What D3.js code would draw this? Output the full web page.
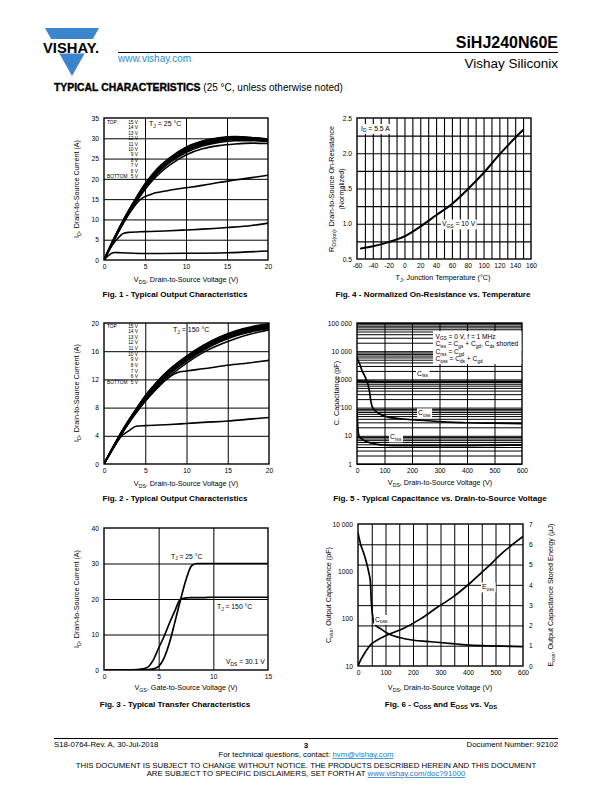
<!DOCTYPE html>
<html><head><meta charset="utf-8">
<script src="https://cdn.jsdelivr.net/npm/d3@7"></script>
<style>
body{margin:0;background:#fff}
svg{display:block;font-family:"Liberation Sans",Arial,Helvetica,sans-serif}
</style></head><body>
<svg id="page" width="612" height="792"></svg>
<script>
// ---------------- DATA ----------------
const gateLabels = ['15 V','14 V','13 V','12 V','11 V','10 V','9 V','8 V','7 V','6 V','5 V'];

// Fig 1 (TJ = 25 °C)
const fig1Vds = [0,1,2,3,4,5,6,7,8,10,12,14,16,18,20];
const fig1IdBundle = [
 [0,4.4,8.5,12.2,15.6,18.8,21.4,23.5,25.2,27.8,29.3,30.1,30.4,30.2,29.8],
 [0,4.4,8.4,12.1,15.5,18.6,21.2,23.3,25.0,27.6,29.2,30.0,30.3,30.1,29.7],
 [0,4.3,8.3,12.0,15.4,18.4,21.0,23.1,24.8,27.4,29.0,29.8,30.1,30.0,29.6],
 [0,4.3,8.3,11.9,15.2,18.3,20.8,22.9,24.6,27.2,28.8,29.7,30.0,29.9,29.5],
 [0,4.2,8.2,11.8,15.1,18.1,20.6,22.7,24.4,27.0,28.6,29.5,29.9,29.8,29.4],
 [0,4.2,8.1,11.7,15.0,18.0,20.4,22.5,24.2,26.8,28.4,29.3,29.7,29.6,29.3],
 [0,4.1,8.0,11.5,14.8,17.8,20.2,22.3,24.0,26.5,28.1,29.0,29.4,29.4,29.2],
 [0,4.0,7.8,11.3,14.5,17.4,19.8,21.8,23.4,25.9,27.4,28.2,28.6,28.8,28.7]
];
const fig1Vds7 = [0,1,2,3,4,4.7,5.5,6,7,8,10,12,14,16,18,20];
const fig1Id7  = [0,4.0,7.8,11.2,14.0,15.3,16.0,16.4,16.8,17.2,17.8,18.4,19.1,19.7,20.3,20.9];
const fig1Vds6 = [0,1,2,2.3,3,5,8,10,12,15,18,20];
const fig1Id6  = [0,3.6,6.0,6.5,6.8,7.0,7.2,7.4,7.6,8.0,8.5,9.1];
const fig1Vds5 = [0,0.5,1,1.3,2,5,10,15,20];
const fig1Id5  = [0,1.0,1.7,1.85,1.8,1.6,1.65,1.8,2.2];

// Fig 2 (TJ = 150 °C)
const fig2Vds = [0,1,2,3,4,5,6,7,8,10,12,14,16,18,20];
const fig2IdBundle = [
 [0,2.2,4.3,6.2,8.0,9.7,11.1,12.4,13.5,15.3,16.8,18.0,18.9,19.5,19.9],
 [0,2.2,4.3,6.2,7.9,9.6,11.0,12.3,13.4,15.2,16.7,17.9,18.8,19.4,19.8],
 [0,2.2,4.2,6.1,7.9,9.5,10.9,12.2,13.3,15.1,16.6,17.8,18.7,19.3,19.7],
 [0,2.1,4.2,6.1,7.8,9.4,10.8,12.1,13.2,15.0,16.5,17.7,18.6,19.2,19.6],
 [0,2.1,4.1,6.0,7.7,9.3,10.7,12.0,13.1,14.9,16.4,17.6,18.5,19.1,19.5],
 [0,2.1,4.1,6.0,7.7,9.2,10.6,11.9,13.0,14.8,16.3,17.5,18.4,19.0,19.4],
 [0,2.1,4.1,5.9,7.6,9.1,10.5,11.8,12.9,14.7,16.2,17.4,18.3,18.9,19.3],
 [0,2.1,4.0,5.9,7.6,9.1,10.5,11.7,12.8,14.6,16.1,17.3,18.2,18.8,19.2],
 [0,2.0,4.0,5.8,7.5,9.0,10.3,11.5,12.5,14.3,15.8,16.9,17.8,18.5,19.0]
];
const fig2Vds6 = [0,1,2,3,4,5,6,7,8,9,10,12,15,18,20];
const fig2Id6  = [0,2.0,4.0,5.8,7.4,8.9,10.2,11.4,12.4,13.0,13.2,13.5,14.0,14.4,14.7];
const fig2Vds5 = [0,1,2,3,3.9,5,8,10,12,15,18,20];
const fig2Id5  = [0,2.0,3.8,4.7,5.35,5.45,5.6,5.75,5.9,6.1,6.4,6.6];

// Fig 3 transfer characteristics
const fig3Vgs   = [0,1,2,3,3.5,4,4.5,5,5.5,6,6.5,7,7.5,8,8.5,9,10,12,15];
const fig3Id25  = [0,0,0,0.01,0.03,0.1,0.3,1.0,3.4,7.8,13.7,19.8,25.4,29.3,30.0,30.0,30.0,30.0,30.0];
const fig3Id150 = [0,0,0.02,0.1,0.3,0.8,2.8,6.2,9.5,13.3,16.8,20.0,20.3,20.4,20.4,20.4,20.5,20.5,20.5];

// Fig 4 normalized RDS(on)
const fig4Tj  = [-55,-40,-20,0,20,40,60,80,100,120,140,150];
const fig4Rds = [0.65,0.68,0.74,0.82,0.96,1.12,1.28,1.49,1.72,1.98,2.22,2.33];

// Fig 5 capacitances
const fig5Vds  = [0,5,10,17,30,40,45,50,55,60,80,100,150,200,300,400,500,600];
const fig5Ciss = [900,880,870,860,850,845,840,840,835,835,830,830,825,825,820,820,820,820];
const fig5Coss = [6000,4500,3500,2200,1200,650,400,180,110,90,62,50,41,37,32,29,28,27];
const fig5VdsR = [0,3,6,10,20,30,50,80,100,150,200,300,400,500,600];
const fig5Crss = [75,20,11,9,7.5,6.5,5.6,4.9,4.7,4.5,4.5,4.5,4.5,4.6,4.7];
const fig5YTickLabels = ['1','10','100','1000','10 000','100 000'];

// Fig 6 Coss and Eoss
const fig6Vds  = [0,5,10,20,30,40,45,48,52,57,65,81,100,121,150,202,250,298,350,407,500,600];
const fig6Coss = [6450,4800,3640,2500,1600,900,600,250,130,86,72,62,52,45,40,35,33,31.4,29.5,27.5,26.5,25.5];
const fig6EVds = [0,10,25,40,50,75,105,165,226,286,347,407,467,528,600];
const fig6Eoss = [0,0.3,0.65,0.95,1.1,1.32,1.52,1.85,2.31,2.87,3.42,4.08,4.82,5.61,6.39];
const fig6YTickLabels = ['10','100','1000','10 000'];
const fig6ETicks = [0,1,2,3,4,5,6,7];

// ---------------- HELPERS ----------------
const svg = d3.select('#page');
const FONT = '"Liberation Sans", Arial, Helvetica, sans-serif';
const TICK = 6.7, TITLE = 7.2, CAP = 8.1;
const defs = svg.append('defs');

function rich(sel, str, fs) {
  const parts = str.split(/(_\{[^}]*\})/);
  let down = false;
  parts.forEach(p => {
    if (!p) return;
    if (p.startsWith('_{')) {
      sel.append('tspan').attr('dy', fs*0.28).attr('font-size', fs*0.72).text(p.slice(2,-1));
      down = true;
    } else {
      const t = sel.append('tspan').text(p);
      if (down) { t.attr('dy', -fs*0.28); down = false; }
    }
  });
  return sel;
}
function label(parent, x, y, str, fs, o={}) {
  const t = parent.append('text').attr('x',x).attr('y',y).attr('font-size',fs)
    .attr('text-anchor', o.anchor||'start').attr('fill', o.fill||'#000');
  if (o.weight) t.attr('font-weight', o.weight);
  if (o.rotate) t.attr('transform', `rotate(-90,${x},${y})`);
  rich(t, str, fs);
  return t;
}
function boxed(parent, x, y, str, fs, o={}) {
  const t = label(parent, x, y, str, fs, o);
  const b = t.node().getBBox();
  const p = o.pad==null ? 1 : o.pad;
  parent.insert('rect', () => t.node()).attr('x', b.x-p).attr('y', b.y-p*0.5)
    .attr('width', b.width+2*p).attr('height', b.height+p).attr('fill','#fff');
  return t;
}
function styleAxis(s) {
  s.select('.domain').remove();
  s.attr('font-size', TICK).attr('font-family', FONT);
  s.selectAll('text').attr('fill','#000');
}
function makeChart(c) {
  const g = svg.append('g');
  const x = d3.scaleLinear().domain(c.xDomain).range([c.x0, c.x1]);
  const y = (c.yLog ? d3.scaleLog() : d3.scaleLinear()).domain(c.yDomain).range([c.y1, c.y0]);
  const w = c.x1 - c.x0, h = c.y1 - c.y0;
  const gy = c.yGridScale || y;
  const gridW = c.gridW || 1;
  g.append('g').attr('transform', `translate(0,${c.y1})`)
    .call(d3.axisBottom(x).tickValues(c.xGrid).tickSize(-h).tickFormat(''))
    .call(s => { s.select('.domain').remove(); s.selectAll('line').attr('stroke','#000').attr('stroke-width', gridW); });
  g.append('g').attr('transform', `translate(${c.x0},0)`)
    .call(d3.axisLeft(gy).tickValues(c.yGrid || y.ticks()).tickSize(-w).tickFormat(''))
    .call(s => { s.select('.domain').remove(); s.selectAll('line').attr('stroke','#000').attr('stroke-width', gridW); });
  g.append('rect').attr('x', c.x0).attr('y', c.y0).attr('width', w).attr('height', h)
    .attr('fill','none').attr('stroke','#000').attr('stroke-width', 1.4);
  g.append('g').attr('transform', `translate(0,${c.y1})`)
    .call(d3.axisBottom(x).tickValues(c.xTicks).tickSize(0).tickPadding(4).tickFormat(c.xFormat || (d => d)))
    .call(styleAxis);
  g.append('g').attr('transform', `translate(${c.x0},0)`)
    .call(d3.axisLeft(y).tickValues(c.yTicks).tickSize(0).tickPadding(5).tickFormat(c.yFormat || (d => d)))
    .call(styleAxis);
  const id = 'clip' + c.id;
  defs.append('clipPath').attr('id', id).append('rect')
    .attr('x', c.x0).attr('y', c.y0).attr('width', w).attr('height', h);
  const plot = g.append('g').attr('clip-path', `url(#${id})`);
  return {g, plot, x, y, w, h};
}
function curve(plot, x, y, xs, ys, sw) {
  plot.append('path').datum(d3.zip(xs, ys))
    .attr('fill','none').attr('stroke','#000').attr('stroke-width', sw || 1.6)
    .attr('stroke-linejoin','round').attr('stroke-linecap','round')
    .attr('d', d3.line().x(d => x(d[0])).y(d => y(d[1])).curve(d3.curveMonotoneX));
}
function gateStack(g, xLeft, xRight, yTop, step) {
  gateLabels.forEach((t, i) => {
    label(g, xRight, yTop + i*step, t, 4.8, {anchor:'end'});
  });
  label(g, xLeft, yTop, 'TOP', 4.8);
  label(g, xLeft, yTop + (gateLabels.length-1)*step, 'BOTTOM', 4.8);
}

// ---------------- HEADER ----------------
const hdr = svg.append('g');
hdr.append('polygon').attr('points', '45,28 99,28 72,76').attr('fill', '#3C84CC');
hdr.append('rect').attr('x', 40).attr('y', 39).attr('width', 64).attr('height', 14.5).attr('fill', '#fff');
hdr.append('text').attr('x', 43).attr('y', 52.5).attr('font-size', 15).attr('font-weight', 'bold')
  .attr('textLength', 56).attr('lengthAdjust', 'spacingAndGlyphs').text('VISHAY.');
hdr.append('line').attr('x1', 118).attr('x2', 558).attr('y1', 52.5).attr('y2', 52.5).attr('stroke', '#000').attr('stroke-width', 1);
hdr.append('text').attr('x', 558).attr('y', 48).attr('text-anchor', 'end').attr('font-size', 16).attr('font-weight', 'bold').text('SiHJ240N60E');
hdr.append('text').attr('x', 118).attr('y', 62).attr('font-size', 10).attr('fill', '#2D8BD0').text('www.vishay.com');
hdr.append('text').attr('x', 558).attr('y', 68).attr('text-anchor', 'end').attr('font-size', 13.5).text('Vishay Siliconix');
const tc = hdr.append('text').attr('x', 54).attr('y', 90.5);
tc.append('tspan').attr('font-size', 10.4).attr('font-weight', 'bold').attr('stroke', '#000').attr('stroke-width', 0.35).text('TYPICAL CHARACTERISTICS ');
tc.append('tspan').attr('font-size', 10).text('(25 °C, unless otherwise noted)');

// ---------------- FIG 1 ----------------
{
  const c = makeChart({id:1, x0:104, x1:268, y0:118, y1:260, xDomain:[0,20], yDomain:[0,35],
    xGrid:[5,10,15], yGrid:[5,10,15,20,25,30], xTicks:[0,5,10,15,20], yTicks:[0,5,10,15,20,25,30,35]});
  fig1IdBundle.forEach(s => curve(c.plot, c.x, c.y, fig1Vds, s, 1.6));
  curve(c.plot, c.x, c.y, fig1Vds7, fig1Id7, 1.6);
  curve(c.plot, c.x, c.y, fig1Vds6, fig1Id6, 1.6);
  curve(c.plot, c.x, c.y, fig1Vds5, fig1Id5, 1.6);
  gateStack(c.g, 107, 138, 124, 5.4);
  label(c.g, 149, 126, 'T_{J} = 25 °C', 7);
  label(c.g, 186, 282, 'V_{DS}, Drain-to-Source Voltage (V)', TITLE, {anchor:'middle'});
  label(c.g, 79, 189, 'I_{D}, Drain-to-Source Current (A)', TITLE, {anchor:'middle', rotate:true});
  label(c.g, 175, 297, 'Fig. 1 - Typical Output Characteristics', CAP, {anchor:'middle', weight:'bold'});
}

// ---------------- FIG 4 ----------------
{
  const c = makeChart({id:4, x0:357, x1:531, y0:118, y1:259, xDomain:[-60,160], yDomain:[0.5,2.5],
    xGrid:d3.range(-50,160,10), yGrid:[0.75,1,1.25,1.5,1.75,2,2.25],
    xTicks:d3.range(-60,161,20), yTicks:[0.5,1,1.5,2,2.5], yFormat:d3.format('.1f'), gridW:1.1});
  curve(c.plot, c.x, c.y, fig4Tj, fig4Rds, 2);
  boxed(c.g, 361, 130.5, 'I_{D} = 5.5 A', 6.8);
  boxed(c.g, 442, 226, 'V_{GS} = 10 V', 6.8);
  label(c.g, 443, 280, 'T_{J}, Junction Temperature (°C)', TITLE, {anchor:'middle'});
  label(c.g, 334, 189, 'R_{DS(on)}, Drain-to-Source On-Resistance', TITLE, {anchor:'middle', rotate:true});
  label(c.g, 343.5, 189, '(Normalized)', TITLE, {anchor:'middle', rotate:true});
  label(c.g, 433, 297, 'Fig. 4 - Normalized On-Resistance vs. Temperature', CAP, {anchor:'middle', weight:'bold'});
}

// ---------------- FIG 2 ----------------
{
  const c = makeChart({id:2, x0:104, x1:269, y0:323, y1:464, xDomain:[0,20], yDomain:[0,20],
    xGrid:[5,10,15], yGrid:[4,8,12,16], xTicks:[0,5,10,15,20], yTicks:[0,4,8,12,16,20]});
  fig2IdBundle.forEach(s => curve(c.plot, c.x, c.y, fig2Vds, s, 1.6));
  curve(c.plot, c.x, c.y, fig2Vds6, fig2Id6, 1.6);
  curve(c.plot, c.x, c.y, fig2Vds5, fig2Id5, 1.6);
  gateStack(c.g, 107, 138, 327.5, 5.65);
  label(c.g, 173, 332, 'T_{J} = 150 °C', 7);
  label(c.g, 186, 486, 'V_{DS}, Drain-to-Source Voltage (V)', TITLE, {anchor:'middle'});
  label(c.g, 79, 393, 'I_{D}, Drain-to-Source Current (A)', TITLE, {anchor:'middle', rotate:true});
  label(c.g, 175, 501, 'Fig. 2 - Typical Output Characteristics', CAP, {anchor:'middle', weight:'bold'});
}

// ---------------- FIG 5 ----------------
{
  const c = makeChart({id:5, x0:357, x1:522, y0:323, y1:464, xDomain:[0,600], yDomain:[1,100000], yLog:true,
    xGrid:[100,200,300,400,500], yGrid:null, xTicks:[0,100,200,300,400,500,600],
    yTicks:[1,10,100,1000,10000,100000], yFormat:(d,i) => fig5YTickLabels[i]});
  curve(c.plot, c.x, c.y, fig5Vds, fig5Ciss, 2);
  curve(c.plot, c.x, c.y, fig5Vds, fig5Coss, 1.7);
  curve(c.plot, c.x, c.y, fig5VdsR, fig5Crss, 1.7);
  // legend
  const lg = c.g.append('g');
  lg.append('rect').attr('x', 433).attr('y', 331).attr('width', 88.5).attr('height', 33).attr('fill', '#fff');
  const legendLines = ['V_{GS} = 0 V, f = 1 MHz', 'C_{iss} = C_{gs} + C_{gd}, C_{ds} shorted', 'C_{rss} = C_{gd}', 'C_{oss} = C_{ds} + C_{gd}'];
  legendLines.forEach((t, i) => label(lg, 435.5, 338.5 + i*7.6, t, 6.6));
  boxed(c.g, 417, 375.5, 'C_{iss}', 6.8);
  boxed(c.g, 418, 415, 'C_{oss}', 6.8);
  boxed(c.g, 390, 439, 'C_{rss}', 6.8);
  label(c.g, 440, 485, 'V_{DS}, Drain-to-Source Voltage (V)', TITLE, {anchor:'middle'});
  label(c.g, 338.5, 393, 'C, Capacitance (pF)', TITLE, {anchor:'middle', rotate:true});
  label(c.g, 440, 501, 'Fig. 5 - Typical Capacitance vs. Drain-to-Source Voltage', CAP, {anchor:'middle', weight:'bold'});
}

// ---------------- FIG 3 ----------------
{
  const c = makeChart({id:3, x0:104, x1:268, y0:528, y1:670, xDomain:[0,15], yDomain:[0,40],
    xGrid:[5,10], yGrid:[10,20,30], xTicks:[0,5,10,15], yTicks:[0,10,20,30,40]});
  curve(c.plot, c.x, c.y, fig3Vgs, fig3Id25, 1.7);
  curve(c.plot, c.x, c.y, fig3Vgs, fig3Id150, 1.7);
  label(c.g, 171, 558.5, 'T_{J} = 25 °C', 6.8);
  label(c.g, 217, 609, 'T_{J} = 150 °C', 6.8);
  label(c.g, 226, 664, 'V_{DS} = 30.1 V', 6.8);
  label(c.g, 186, 690, 'V_{GS}, Gate-to-Source Voltage (V)', TITLE, {anchor:'middle'});
  label(c.g, 78.5, 599, 'I_{D}, Drain-to-Source Current (A)', TITLE, {anchor:'middle', rotate:true});
  label(c.g, 175, 707, 'Fig. 3 - Typical Transfer Characteristics', CAP, {anchor:'middle', weight:'bold'});
}

// ---------------- FIG 6 ----------------
{
  const yE = d3.scaleLinear().domain([0,7]).range([666,524]);
  const c = makeChart({id:6, x0:358, x1:523, y0:524, y1:666, xDomain:[0,600], yDomain:[10,10000], yLog:true,
    xGrid:d3.range(50,600,50), yGrid:[1,2,3,4,5,6], yGridScale:yE,
    xTicks:[0,100,200,300,400,500,600], yTicks:[10,100,1000,10000], yFormat:(d,i) => fig6YTickLabels[i]});
  c.g.append('g').attr('transform', 'translate(523,0)')
    .call(d3.axisRight(yE).tickValues(fig6ETicks).tickSize(0).tickPadding(6).tickFormat(d => d))
    .call(styleAxis);
  curve(c.plot, c.x, c.y, fig6Vds, fig6Coss, 1.7);
  curve(c.plot, c.x, yE, fig6EVds, fig6Eoss, 1.7);
  boxed(c.g, 482, 589, 'E_{oss}', 6.8);
  boxed(c.g, 375, 621.5, 'C_{oss}', 6.8);
  label(c.g, 440, 690, 'V_{DS}, Drain-to-Source Voltage (V)', TITLE, {anchor:'middle'});
  label(c.g, 331, 595, 'C_{oss}, Output Capacitance (pF)', TITLE, {anchor:'middle', rotate:true});
  label(c.g, 552.5, 595, 'E_{oss}, Output Capacitance Stored Energy (µJ)', TITLE, {anchor:'middle', rotate:true});
  label(c.g, 441, 707, 'Fig. 6 - C_{OSS} and E_{OSS} vs. V_{DS}', CAP, {anchor:'middle', weight:'bold'});
}

// ---------------- FOOTER ----------------
const ft = svg.append('g').attr('font-size', 7.8);
ft.append('line').attr('x1', 54).attr('x2', 558).attr('y1', 738.5).attr('y2', 738.5).attr('stroke', '#000').attr('stroke-width', 1);
ft.append('text').attr('x', 54).attr('y', 747).text('S18-0764-Rev. A, 30-Jul-2018');
ft.append('text').attr('x', 306).attr('y', 748).attr('text-anchor', 'middle').attr('font-weight', 'bold').attr('font-size', 8).text('3');
ft.append('text').attr('x', 558).attr('y', 747).attr('text-anchor', 'end').text('Document Number: 92102');
const f1 = ft.append('text').attr('x', 306).attr('y', 757).attr('text-anchor', 'middle');
f1.append('tspan').text('For technical questions, contact: ');
f1.append('tspan').attr('fill', '#1E7BC4').attr('text-decoration', 'underline').text('hvm@vishay.com');
ft.append('text').attr('x', 306).attr('y', 768).attr('text-anchor', 'middle')
  .text('THIS DOCUMENT IS SUBJECT TO CHANGE WITHOUT NOTICE. THE PRODUCTS DESCRIBED HEREIN AND THIS DOCUMENT');
const f2 = ft.append('text').attr('x', 306).attr('y', 776).attr('text-anchor', 'middle');
f2.append('tspan').text('ARE SUBJECT TO SPECIFIC DISCLAIMERS, SET FORTH AT ');
f2.append('tspan').attr('fill', '#1E7BC4').attr('text-decoration', 'underline').text('www.vishay.com/doc?91000');
</script>
</body></html>
